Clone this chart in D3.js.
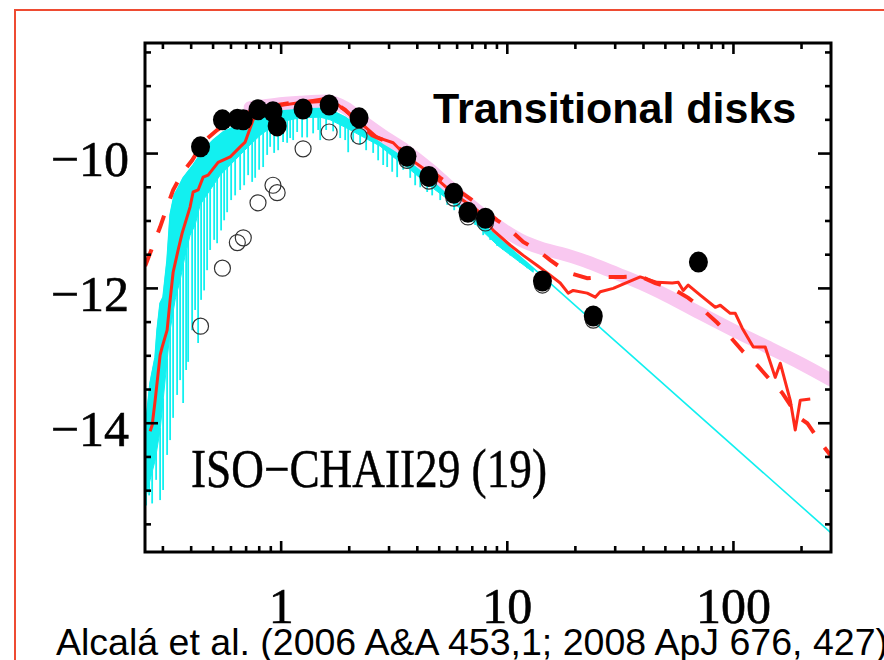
<!DOCTYPE html>
<html>
<head>
<meta charset="utf-8">
<script src="https://cdn.jsdelivr.net/npm/d3@7"></script>
<style>
  html, body { margin: 0; padding: 0; background: #fff; overflow: hidden; }
  svg { display: block; }
</style>
</head>
<body>
<svg id="chart" width="884" height="660"></svg>
<script>
// SED of ISO-ChaII 29: wavelength [um] vs log(lambda F_lambda)

// dereddened photometry (filled dots)
const photWave = [0.44, 0.55, 0.64, 0.68, 0.79, 0.92, 0.96, 1.25, 1.63, 2.21, 3.6, 4.5, 5.8, 6.7, 8.0, 14.3, 24, 70];
const photFlux = [-9.90, -9.50, -9.49, -9.50, -9.35, -9.38, -9.59, -9.34, -9.28, -9.47, -10.04, -10.34, -10.59, -10.87, -10.96, -11.89, -12.41, -11.61];

// observed photometry (open circles)
const obsWave = [0.44, 0.55, 0.64, 0.68, 0.79, 0.92, 0.96, 1.25, 1.63, 2.21, 3.6, 4.5, 5.8, 6.7, 8.0, 14.3, 24];
const obsFlux = [-12.56, -11.70, -11.32, -11.25, -10.73, -10.47, -10.58, -9.93, -9.68, -9.74, -10.10, -10.41, -10.66, -10.94, -11.03, -11.95, -12.47];

// stellar photosphere: upper envelope, lower edge of the dense part, and absorption spikes
const photoTop = [[0.2503,-14.10],[0.2634,-13.40],[0.2772,-13.02],[0.2828,-12.62],[0.2916,-12.22],[0.3006,-12.13],
  [0.3131,-11.58],[0.3229,-10.91],[0.3363,-10.62],[0.3503,-10.51],[0.3686,-10.36],[0.4081,-10.17],[0.4519,-9.95],
  [0.5003,-9.80],[0.5541,-9.68],[0.6135,-9.61],[0.7293,-9.53],[0.8671,-9.40],[0.9899,-9.35],[1.213,-9.32],
  [1.488,-9.31],[1.647,-9.35],[1.919,-9.46],[2.235,-9.61],[2.604,-9.76],[3.129,-9.95],[3.721,-10.14],[4.423,-10.32],
  [5.313,-10.54],[6.189,-10.72],[7.823,-11.05],[9.115,-11.25],[13.02,-11.70],[270.8,-15.63]];
const photoBody = [[0.2503,-15.14],[0.2634,-14.84],[0.2772,-14.55],[0.2916,-14.10],[0.3069,-13.36],[0.3229,-12.62],
  [0.3397,-12.17],[0.3574,-11.88],[0.3763,-11.51],[0.3958,-11.21],[0.4164,-11.06],[0.4383,-10.76],[0.4853,-10.54],
  [0.5373,-10.32],[0.5948,-10.17],[0.6587,-10.02],[0.7293,-9.87],[0.8075,-9.73],[0.8939,-9.62],[0.9899,-9.53],
  [1.213,-9.47],[1.488,-9.46],[1.647,-9.50],[1.919,-9.61],[2.235,-9.73],[2.741,-9.89],[3.129,-10.05],[3.721,-10.24],
  [4.423,-10.45],[5.313,-10.65],[6.189,-10.81],[7.823,-11.16],[9.115,-11.37],[13.02,-11.76]];
const photoSpikes = [[0.2529,-15.22],[0.2608,-15.07],[0.2689,-15.19],[0.2800,-14.84],[0.2916,-15.14],[0.3006,-14.99],
  [0.3131,-14.47],[0.3229,-14.25],[0.3329,-13.92],[0.3467,-13.58],[0.3574,-13.36],[0.3686,-13.70],[0.3800,-13.21],
  [0.3879,-13.09],[0.4040,-12.62],[0.4164,-12.32],[0.4294,-12.81],[0.4427,-12.17],[0.4564,-12.03],[0.4706,-11.73],
  [0.4853,-11.43],[0.5055,-11.28],[0.5210,-11.33],[0.5427,-11.14],[0.5596,-10.99],[0.5770,-10.87],[0.6010,-10.69],
  [0.6260,-10.62],[0.6587,-10.54],[0.6861,-10.47],[0.7145,-10.32],[0.7444,-10.42],[0.7674,-10.36],[0.7993,-10.24],
  [0.8325,-10.20],[0.8671,-10.02],[0.8939,-9.90],[0.9312,-9.99],[0.9699,-9.95],[1.020,-9.83],[1.063,-9.84],
  [1.096,-9.77],[1.130,-9.80],[1.177,-9.68],[1.238,-9.76],[1.303,-9.76],[1.385,-9.70],[1.458,-9.65],[1.488,-9.80],
  [1.581,-9.65],[1.698,-9.67],[1.824,-9.77],[1.919,-9.80],[1.979,-9.98],[2.082,-9.83],[2.235,-9.87],[2.376,-9.95],
  [2.552,-9.99],[2.685,-10.10],[2.826,-10.17],[2.943,-10.20],[3.097,-10.27],[3.258,-10.35],[3.464,-10.24],
  [3.721,-10.36],[3.914,-10.47],[4.120,-10.50],[4.423,-10.57],[4.654,-10.62],[5.050,-10.69],[5.423,-10.76],
  [5.823,-10.84],[6.189,-10.87],[6.646,-10.96],[7.211,-11.06],[7.823,-11.21],[8.403,-11.28],[9.022,-11.37],
  [9.592,-11.43],[10.30,-11.51],[11.40,-11.62],[12.25,-11.70]];

// disk model (thick pink band)
const diskModel = [[0.7293,-9.32],[0.9407,-9.27],[1.213,-9.24],[1.597,-9.22],[1.919,-9.32],[2.352,-9.55],[2.884,-9.76],
  [3.535,-9.95],[4.560,-10.24],[5.884,-10.57],[7.588,-10.88],[9.302,-11.10],[11.40,-11.28],[13.98,-11.40],
  [17.14,-11.48],[21.01,-11.57],[25.76,-11.68],[31.57,-11.80],[38.71,-11.92],[50.96,-12.11],[71.32,-12.37],
  [99.79,-12.62],[139.7,-12.86],[197.4,-13.11],[270.8,-13.36]];

// red solid model
const redSolid = [[0.2634,-14.12],[0.2689,-14.03],[0.2772,-13.66],[0.2916,-12.99],[0.2977,-12.87],[0.3131,-12.62],
  [0.3229,-12.17],[0.3329,-11.76],[0.3503,-11.43],[0.3649,-11.18],[0.3958,-10.79],[0.4081,-10.57],[0.4294,-10.54],
  [0.4519,-10.35],[0.4754,-10.32],[0.5263,-10.13],[0.5948,-10.05],[0.6587,-9.90],[0.6932,-9.83],[0.7517,-9.50],
  [0.7830,-9.37],[0.8939,-9.31],[1.177,-9.25],[1.597,-9.18],[1.787,-9.28],[2.305,-9.58],[2.658,-9.76],[3.129,-9.84],
  [3.609,-10.05],[4.560,-10.29],[5.765,-10.59],[7.360,-10.84],[8.663,-11.14],[10.30,-11.36],[11.76,-11.51],
  [13.56,-11.66],[15.01,-11.77],[17.14,-11.92],[18.59,-12.07],[19.56,-12.03],[22.56,-12.07],[24.48,-12.13],
  [25.76,-12.05],[29.40,-12.00],[33.91,-11.91],[38.71,-11.83],[46.03,-11.91],[53.62,-11.92],[57.00,-11.91],
  [59.98,-12.03],[63.10,-11.95],[71.32,-12.10],[83.09,-12.28],[87.43,-12.25],[96.78,-12.37],[101.9,-12.37],
  [109.4,-12.59],[122.4,-12.87],[138.2,-12.87],[153.0,-13.32],[161.1,-13.11],[178.3,-13.66],[187.6,-14.10],
  [197.4,-13.66],[218.6,-13.64]];

// red dashed model
const redDashed = [[0.2503,-11.67],[0.2716,-11.36],[0.2916,-11.09],[0.3131,-10.79],[0.3329,-10.54],[0.3686,-10.27],
  [0.4040,-10.10],[0.4519,-9.83],[0.5210,-9.65],[0.6260,-9.47],[0.8075,-9.32],[1.096,-9.25],[1.647,-9.21],
  [1.919,-9.35],[2.168,-9.52],[2.526,-9.73],[2.973,-9.83],[3.721,-10.02],[5.050,-10.36],[6.996,-10.69],
  [9.022,-10.99],[9.99,-11.09],[11.76,-11.31],[13.56,-11.43],[15.48,-11.58],[18.40,-11.76],[22.56,-11.85],
  [26.56,-11.83],[32.55,-11.83],[38.71,-11.82],[45.10,-11.92],[53.62,-12.00],[63.10,-12.14],[71.32,-12.28],
  [84.80,-12.51],[96.78,-12.72],[110.5,-12.94],[127.4,-13.14],[145.5,-13.36],[164.4,-13.55],[193.4,-13.91],
  [212.1,-14.00],[242.1,-14.28],[270.8,-14.49]];

const xLabelTicks = [1, 10, 100];
const yLabelTicks = [-10, -12, -14];
const starName = 'ISO\u2212CHAII29 (19)';
const panelTitle = 'Transitional disks';
const caption = 'Alcalá et al. (2006 A&A 453,1; 2008 ApJ 676, 427)';

const RED = '#ff2a1a', CYAN = '#12f0f0', PINK = '#f9c8f0';
const plot = { left: 145, right: 831, top: 43, bottom: 552 };

const svg = d3.select('#chart');

// outer red frame of the slide
svg.append('rect')
  .attr('x', 15).attr('y', 10).attr('width', 900).attr('height', 700)
  .attr('fill', 'none').attr('stroke', '#ee4b32').attr('stroke-width', 2);

const x = d3.scaleLog().domain([0.25, 270]).range([plot.left, plot.right]);
const y = d3.scaleLinear().domain([-15.91, -8.36]).range([plot.bottom, plot.top]);

svg.append('clipPath').attr('id', 'clip')
  .append('rect')
  .attr('x', plot.left).attr('y', plot.top)
  .attr('width', plot.right - plot.left).attr('height', plot.bottom - plot.top);

const g = svg.append('g').attr('clip-path', 'url(#clip)');
const line = d3.line().x(d => x(d[0])).y(d => y(d[1]));

// photosphere: dense part as polygon, spikes as lines, envelope as stroke
const bodyAt = d3.scaleLog().domain(photoBody.map(d => d[0])).range(photoBody.map(d => d[1]));
g.append('path')
  .attr('d', line(photoTop.filter(d => d[0] < 14).concat(photoBody.slice().reverse())) + 'Z')
  .attr('fill', CYAN).attr('stroke', CYAN).attr('stroke-width', 1);
g.selectAll('line.spike')
  .data(photoSpikes)
  .join('line')
  .attr('class', 'spike')
  .attr('x1', d => x(d[0])).attr('x2', d => x(d[0]))
  .attr('y1', d => y(bodyAt(d[0])) - 2).attr('y2', d => y(d[1]))
  .attr('stroke', CYAN).attr('stroke-width', 1.8);
g.append('path')
  .attr('d', line(photoTop))
  .attr('fill', 'none').attr('stroke', CYAN).attr('stroke-width', 1.6);

// disk model
g.append('path')
  .attr('d', line.curve(d3.curveMonotoneX)(diskModel))
  .attr('fill', 'none').attr('stroke', PINK).attr('stroke-width', 13)
  .attr('stroke-linecap', 'round');
line.curve(d3.curveLinear);

g.append('path')
  .attr('d', line(redDashed))
  .attr('fill', 'none').attr('stroke', RED).attr('stroke-width', 4)
  .attr('stroke-dasharray', '18,18');

g.append('path')
  .attr('d', line(redSolid))
  .attr('fill', 'none').attr('stroke', RED).attr('stroke-width', 3)
  .attr('stroke-linejoin', 'round');

// photometry
g.selectAll('circle.obs')
  .data(d3.zip(obsWave, obsFlux))
  .join('circle')
  .attr('class', 'obs')
  .attr('cx', d => x(d[0])).attr('cy', d => y(d[1])).attr('r', 8)
  .attr('fill', 'none').attr('stroke', '#333').attr('stroke-width', 1.2);

g.selectAll('ellipse.phot')
  .data(d3.zip(photWave, photFlux))
  .join('ellipse')
  .attr('class', 'phot')
  .attr('cx', d => x(d[0])).attr('cy', d => y(d[1]))
  .attr('rx', 9.5).attr('ry', 10.5)
  .attr('fill', '#000');

// axes: ticks only, pointing inward on all four sides
const xTicks = x.ticks();
const yTicks = y.ticks(15);
const isMajorX = v => xLabelTicks.includes(v);
const isMajorY = v => yLabelTicks.some(t => Math.abs(t - v) < 1e-9);

const axes = svg.append('g').attr('stroke', '#000').attr('stroke-width', 2.6);
xTicks.forEach(v => {
  const L = isMajorX(v) ? 11 : 6;
  axes.append('line').attr('x1', x(v)).attr('x2', x(v)).attr('y1', plot.bottom).attr('y2', plot.bottom - L);
  axes.append('line').attr('x1', x(v)).attr('x2', x(v)).attr('y1', plot.top).attr('y2', plot.top + L);
});
yTicks.forEach(v => {
  const L = isMajorY(v) ? 13 : 6;
  axes.append('line').attr('y1', y(v)).attr('y2', y(v)).attr('x1', plot.left).attr('x2', plot.left + L);
  axes.append('line').attr('y1', y(v)).attr('y2', y(v)).attr('x1', plot.right).attr('x2', plot.right - L);
});
svg.append('rect')
  .attr('x', plot.left).attr('y', plot.top)
  .attr('width', plot.right - plot.left).attr('height', plot.bottom - plot.top)
  .attr('fill', 'none').attr('stroke', '#000').attr('stroke-width', 3);

// tick labels
const serif = '"Liberation Serif", "Times New Roman", serif';
svg.selectAll('text.xl')
  .data(xLabelTicks)
  .join('text')
  .attr('class', 'xl')
  .attr('x', d => x(d)).attr('y', 623)
  .attr('text-anchor', 'middle')
  .style('font', `50px ${serif}`)
  .attr('stroke', '#000').attr('stroke-width', 0.6)
  .text(d => d);

svg.selectAll('text.yl')
  .data(yLabelTicks)
  .join('text')
  .attr('class', 'yl')
  .attr('x', 129).attr('y', d => y(d) + 22.5)
  .attr('text-anchor', 'end')
  .style('font', `50px ${serif}`)
  .attr('stroke', '#000').attr('stroke-width', 0.6)
  .text(d => '\u2212' + Math.abs(d));

// annotations
svg.append('text')
  .attr('x', 191).attr('y', 487)
  .attr('textLength', 356).attr('lengthAdjust', 'spacingAndGlyphs')
  .style('font', `54px ${serif}`)
  .attr('stroke', '#000').attr('stroke-width', 0.5)
  .text(starName);

svg.append('text')
  .attr('x', 433).attr('y', 123)
  .style('font', 'bold 43px "Liberation Sans", Arial, sans-serif')
  .text(panelTitle);

svg.append('text')
  .attr('x', 56).attr('y', 655)
  .attr('textLength', 832).attr('lengthAdjust', 'spacingAndGlyphs')
  .style('font', '36px "Liberation Sans", Arial, sans-serif')
  .text(caption);
</script>
</body>
</html>
